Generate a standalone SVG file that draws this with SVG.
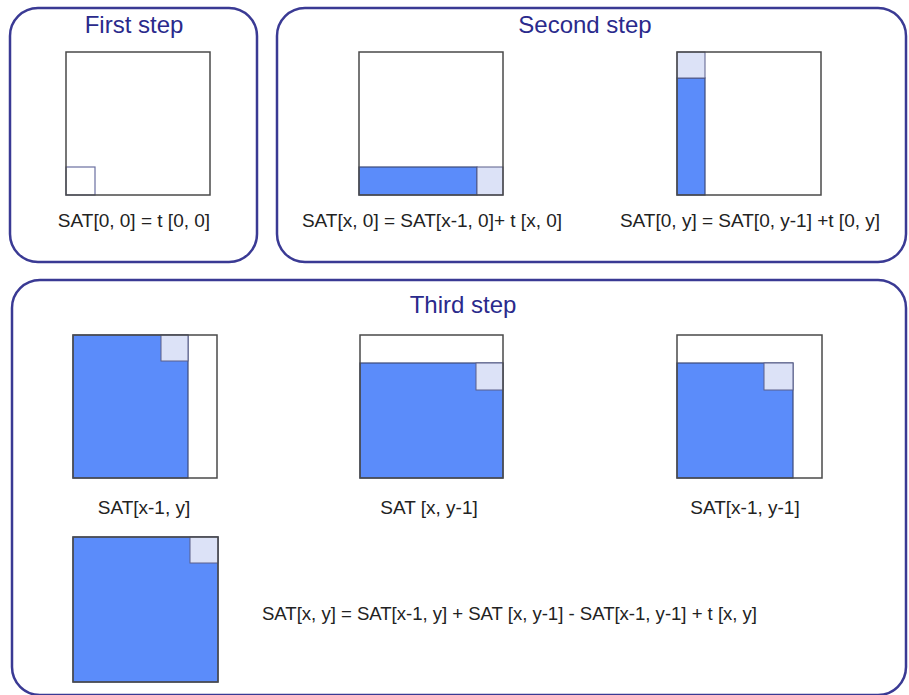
<svg xmlns="http://www.w3.org/2000/svg" width="909" height="695" viewBox="0 0 909 695">
<style>
.panel{fill:#ffffff;stroke:#3a3a94;stroke-width:2.5}
.title{font-family:"Liberation Sans",Arial,sans-serif;font-size:24px;fill:#2a2a8c;text-anchor:middle}
.lbl{font-family:"Liberation Sans",Arial,sans-serif;font-size:19px;fill:#222222;text-anchor:middle}
.grid{fill:none;stroke:#4a4a4a;stroke-width:1.5}
.blue{fill:#5b8cfa;stroke:#3c4a78;stroke-width:1.2}
.light{fill:#dce2f7;stroke:#5a5f8a;stroke-width:1}
</style>
<rect width="909" height="695" fill="#ffffff"/>
<g id="panel-first">
<rect class="panel" x="10" y="8" width="247" height="254" rx="28"/>
<text class="title" x="134" y="33">First step</text>
</g>
<g id="panel-second">
<rect class="panel" x="277" y="8" width="629" height="254" rx="28"/>
<text class="title" x="585" y="33">Second step</text>
</g>
<g id="panel-third">
<rect class="panel" x="12" y="280" width="894" height="415" rx="28"/>
<text class="title" x="463" y="313">Third step</text>
</g>
<g id="fig1">
<rect x="66" y="52" width="144" height="143" fill="#ffffff"/>
<rect x="66" y="167" width="29" height="28" fill="none" stroke="#6a6fa0" stroke-width="1.2"/>
<rect class="grid" x="66" y="52" width="144" height="143"/>
<text class="lbl" x="134" y="227">SAT[0, 0] = t [0, 0]</text>
</g>
<g id="fig2">
<rect x="359" y="52" width="144" height="143" fill="#ffffff"/>
<rect class="blue" x="359" y="167" width="118" height="28"/>
<rect class="light" x="477" y="167" width="26" height="28"/>
<rect class="grid" x="359" y="52" width="144" height="143"/>
<text class="lbl" x="432" y="227">SAT[x, 0] = SAT[x-1, 0]+ t [x, 0]</text>
</g>
<g id="fig3">
<rect x="677" y="52" width="144" height="143" fill="#ffffff"/>
<rect class="blue" x="677" y="78" width="28" height="117"/>
<rect class="light" x="677" y="52" width="28" height="26"/>
<rect class="grid" x="677" y="52" width="144" height="143"/>
<text class="lbl" x="750" y="227">SAT[0, y] = SAT[0, y-1] +t [0, y]</text>
</g>
<g id="figA">
<rect x="73" y="335" width="144" height="143" fill="#ffffff"/>
<rect class="blue" x="73" y="335" width="115" height="143"/>
<rect class="light" x="161" y="335" width="27" height="26"/>
<rect class="grid" x="73" y="335" width="144" height="143"/>
<text class="lbl" x="144" y="514">SAT[x-1, y]</text>
</g>
<g id="figB">
<rect x="360" y="335" width="143" height="143" fill="#ffffff"/>
<rect class="blue" x="360" y="363" width="143" height="115"/>
<rect class="light" x="476" y="363" width="27" height="27"/>
<rect class="grid" x="360" y="335" width="143" height="143"/>
<text class="lbl" x="429" y="514">SAT [x, y-1]</text>
</g>
<g id="figC">
<rect x="677" y="335" width="145" height="143" fill="#ffffff"/>
<rect class="blue" x="677" y="363" width="116" height="115"/>
<rect class="light" x="764" y="363" width="29" height="27"/>
<rect class="grid" x="677" y="335" width="145" height="143"/>
<text class="lbl" x="745" y="514">SAT[x-1, y-1]</text>
</g>
<g id="figD">
<rect class="blue" x="73" y="537" width="145" height="145"/>
<rect class="light" x="190" y="537" width="28" height="26"/>
<rect class="grid" x="73" y="537" width="145" height="145" stroke="#3c4a78"/>
</g>
<g id="formula">
<text class="lbl" x="262" y="620" style="text-anchor:start;font-size:18.6px" textLength="495" lengthAdjust="spacing">SAT[x, y] = SAT[x-1, y] + SAT [x, y-1] - SAT[x-1, y-1] + t [x, y]</text>
</g>
<g id="connectors"></g>
</svg>
